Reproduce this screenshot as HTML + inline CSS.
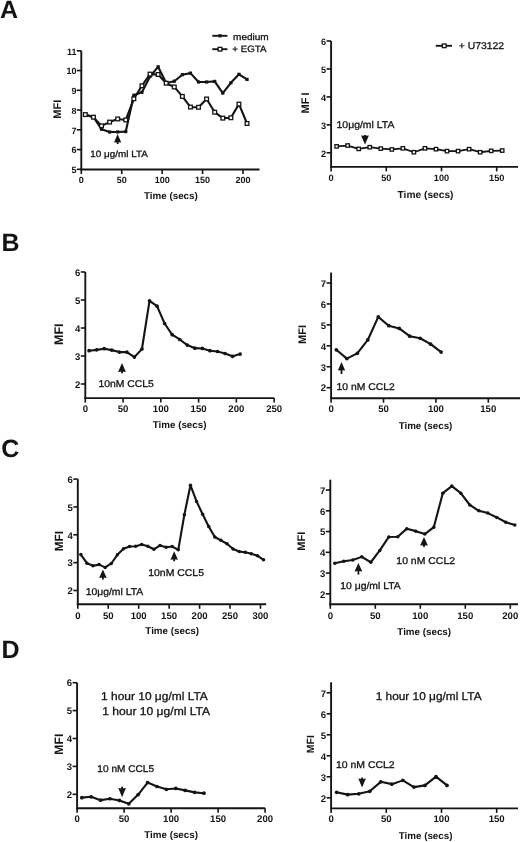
<!DOCTYPE html>
<html><head><meta charset="utf-8"><style>
html,body{margin:0;padding:0;background:#fff;}
svg{display:block;filter:blur(0.35px);}
.r{stroke:#141414;stroke-width:0.3px;}
text{font-family:"Liberation Sans",sans-serif;fill:#141414;stroke:none;text-rendering:geometricPrecision;}
</style></head><body>
<svg width="520" height="842" viewBox="0 0 520 842">
<g stroke="#141414" fill="#141414">
<line x1="81.3" y1="50.8" x2="81.3" y2="170.45" stroke-width="1.9"/>
<line x1="80.35" y1="169.5" x2="259.5" y2="169.5" stroke-width="1.9"/>
<line x1="76.8" y1="169.3" x2="81.3" y2="169.3" stroke-width="1.6"/>
<text x="76.4" y="173.05" font-size="9.0" font-weight="bold" text-anchor="end" >5</text>
<line x1="76.8" y1="149.55" x2="81.3" y2="149.55" stroke-width="1.6"/>
<text x="76.4" y="153.3" font-size="9.0" font-weight="bold" text-anchor="end" >6</text>
<line x1="76.8" y1="129.8" x2="81.3" y2="129.8" stroke-width="1.6"/>
<text x="76.4" y="133.55" font-size="9.0" font-weight="bold" text-anchor="end" >7</text>
<line x1="76.8" y1="110.05" x2="81.3" y2="110.05" stroke-width="1.6"/>
<text x="76.4" y="113.8" font-size="9.0" font-weight="bold" text-anchor="end" >8</text>
<line x1="76.8" y1="90.3" x2="81.3" y2="90.3" stroke-width="1.6"/>
<text x="76.4" y="94.05" font-size="9.0" font-weight="bold" text-anchor="end" >9</text>
<line x1="76.8" y1="70.55" x2="81.3" y2="70.55" stroke-width="1.6"/>
<text x="76.4" y="74.3" font-size="9.0" font-weight="bold" text-anchor="end" >10</text>
<line x1="76.8" y1="50.8" x2="81.3" y2="50.8" stroke-width="1.6"/>
<text x="76.4" y="54.55" font-size="9.0" font-weight="bold" text-anchor="end" >11</text>
<line x1="81.3" y1="169.5" x2="81.3" y2="174" stroke-width="1.6"/>
<text x="81.3" y="183.2" font-size="9.0" font-weight="bold" text-anchor="middle" >0</text>
<line x1="121.72" y1="169.5" x2="121.72" y2="174" stroke-width="1.6"/>
<text x="121.72" y="183.2" font-size="9.0" font-weight="bold" text-anchor="middle" >50</text>
<line x1="162.15" y1="169.5" x2="162.15" y2="174" stroke-width="1.6"/>
<text x="162.15" y="183.2" font-size="9.0" font-weight="bold" text-anchor="middle" >100</text>
<line x1="202.57" y1="169.5" x2="202.57" y2="174" stroke-width="1.6"/>
<text x="202.57" y="183.2" font-size="9.0" font-weight="bold" text-anchor="middle" >150</text>
<line x1="243" y1="169.5" x2="243" y2="174" stroke-width="1.6"/>
<text x="243" y="183.2" font-size="9.0" font-weight="bold" text-anchor="middle" >200</text>
<text x="170.9" y="198.8" font-size="9.8" font-weight="bold" text-anchor="middle" >Time (secs)</text>
<text x="57.2" y="109.2" font-size="11" font-weight="bold" text-anchor="middle" transform="rotate(-90 57.2 109.2)" dy="3.96">MFI</text>
<polyline fill="none" stroke-width="2.1" stroke-linejoin="round" points="85.34,114.59 93.43,117.16 101.51,129.21 109.6,131.97 117.68,131.97 125.77,131.58 133.85,95.24 141.94,92.28 150.02,76.48 158.11,66.8 166.19,82.99 174.28,81.21 182.36,74.7 190.45,73.12 198.53,82.01 206.62,82.01 214.7,81.41 222.79,93.07 230.87,82.8 238.96,74.3 247.04,79.44"/>
<rect x="83.74" y="112.99" width="3.2" height="3.2" stroke="none"/>
<rect x="91.83" y="115.56" width="3.2" height="3.2" stroke="none"/>
<rect x="99.91" y="127.61" width="3.2" height="3.2" stroke="none"/>
<rect x="108" y="130.37" width="3.2" height="3.2" stroke="none"/>
<rect x="116.08" y="130.37" width="3.2" height="3.2" stroke="none"/>
<rect x="124.17" y="129.98" width="3.2" height="3.2" stroke="none"/>
<rect x="132.25" y="93.64" width="3.2" height="3.2" stroke="none"/>
<rect x="140.34" y="90.68" width="3.2" height="3.2" stroke="none"/>
<rect x="148.42" y="74.88" width="3.2" height="3.2" stroke="none"/>
<rect x="156.51" y="65.2" width="3.2" height="3.2" stroke="none"/>
<rect x="164.59" y="81.39" width="3.2" height="3.2" stroke="none"/>
<rect x="172.68" y="79.61" width="3.2" height="3.2" stroke="none"/>
<rect x="180.76" y="73.1" width="3.2" height="3.2" stroke="none"/>
<rect x="188.85" y="71.52" width="3.2" height="3.2" stroke="none"/>
<rect x="196.93" y="80.41" width="3.2" height="3.2" stroke="none"/>
<rect x="205.02" y="80.41" width="3.2" height="3.2" stroke="none"/>
<rect x="213.1" y="79.81" width="3.2" height="3.2" stroke="none"/>
<rect x="221.19" y="91.47" width="3.2" height="3.2" stroke="none"/>
<rect x="229.27" y="81.2" width="3.2" height="3.2" stroke="none"/>
<rect x="237.36" y="72.7" width="3.2" height="3.2" stroke="none"/>
<rect x="245.44" y="77.84" width="3.2" height="3.2" stroke="none"/>
<polyline fill="none" stroke-width="2.1" stroke-linejoin="round" points="85.34,114.59 93.43,117.16 101.51,125.85 109.6,122.1 117.68,118.94 125.77,119.93 133.85,98.79 141.94,85.76 150.02,74.11 158.11,74.5 166.19,83.19 174.28,86.94 182.36,96.42 190.45,107.09 198.53,107.28 206.62,98.99 214.7,112.22 222.79,118.15 230.87,117.75 238.96,104.12 247.04,123.48"/>
<rect x="83.49" y="112.74" width="3.7" height="3.7" fill="#fff" stroke-width="1.3"/>
<rect x="91.58" y="115.31" width="3.7" height="3.7" fill="#fff" stroke-width="1.3"/>
<rect x="99.66" y="124" width="3.7" height="3.7" fill="#fff" stroke-width="1.3"/>
<rect x="107.75" y="120.25" width="3.7" height="3.7" fill="#fff" stroke-width="1.3"/>
<rect x="115.83" y="117.09" width="3.7" height="3.7" fill="#fff" stroke-width="1.3"/>
<rect x="123.92" y="118.08" width="3.7" height="3.7" fill="#fff" stroke-width="1.3"/>
<rect x="132" y="96.94" width="3.7" height="3.7" fill="#fff" stroke-width="1.3"/>
<rect x="140.09" y="83.91" width="3.7" height="3.7" fill="#fff" stroke-width="1.3"/>
<rect x="148.17" y="72.26" width="3.7" height="3.7" fill="#fff" stroke-width="1.3"/>
<rect x="156.26" y="72.65" width="3.7" height="3.7" fill="#fff" stroke-width="1.3"/>
<rect x="164.34" y="81.34" width="3.7" height="3.7" fill="#fff" stroke-width="1.3"/>
<rect x="172.43" y="85.09" width="3.7" height="3.7" fill="#fff" stroke-width="1.3"/>
<rect x="180.51" y="94.57" width="3.7" height="3.7" fill="#fff" stroke-width="1.3"/>
<rect x="188.6" y="105.24" width="3.7" height="3.7" fill="#fff" stroke-width="1.3"/>
<rect x="196.68" y="105.44" width="3.7" height="3.7" fill="#fff" stroke-width="1.3"/>
<rect x="204.77" y="97.14" width="3.7" height="3.7" fill="#fff" stroke-width="1.3"/>
<rect x="212.85" y="110.37" width="3.7" height="3.7" fill="#fff" stroke-width="1.3"/>
<rect x="220.94" y="116.3" width="3.7" height="3.7" fill="#fff" stroke-width="1.3"/>
<rect x="229.02" y="115.9" width="3.7" height="3.7" fill="#fff" stroke-width="1.3"/>
<rect x="237.11" y="102.28" width="3.7" height="3.7" fill="#fff" stroke-width="1.3"/>
<rect x="245.19" y="121.63" width="3.7" height="3.7" fill="#fff" stroke-width="1.3"/>
<line x1="331.1" y1="41" x2="331.1" y2="167.85" stroke-width="1.9"/>
<line x1="330.15" y1="166.9" x2="518" y2="166.9" stroke-width="1.9"/>
<line x1="326.6" y1="152.8" x2="331.1" y2="152.8" stroke-width="1.6"/>
<text x="326.2" y="156.55" font-size="9.2" font-weight="bold" text-anchor="end" >2</text>
<line x1="326.6" y1="124.85" x2="331.1" y2="124.85" stroke-width="1.6"/>
<text x="326.2" y="128.6" font-size="9.2" font-weight="bold" text-anchor="end" >3</text>
<line x1="326.6" y1="96.9" x2="331.1" y2="96.9" stroke-width="1.6"/>
<text x="326.2" y="100.65" font-size="9.2" font-weight="bold" text-anchor="end" >4</text>
<line x1="326.6" y1="68.95" x2="331.1" y2="68.95" stroke-width="1.6"/>
<text x="326.2" y="72.7" font-size="9.2" font-weight="bold" text-anchor="end" >5</text>
<line x1="326.6" y1="41" x2="331.1" y2="41" stroke-width="1.6"/>
<text x="326.2" y="44.75" font-size="9.2" font-weight="bold" text-anchor="end" >6</text>
<line x1="331.1" y1="166.9" x2="331.1" y2="171.4" stroke-width="1.6"/>
<text x="331.1" y="181.2" font-size="9.2" font-weight="bold" text-anchor="middle" >0</text>
<line x1="386.3" y1="166.9" x2="386.3" y2="171.4" stroke-width="1.6"/>
<text x="386.3" y="181.2" font-size="9.2" font-weight="bold" text-anchor="middle" >50</text>
<line x1="441.5" y1="166.9" x2="441.5" y2="171.4" stroke-width="1.6"/>
<text x="441.5" y="181.2" font-size="9.2" font-weight="bold" text-anchor="middle" >100</text>
<line x1="496.7" y1="166.9" x2="496.7" y2="171.4" stroke-width="1.6"/>
<text x="496.7" y="181.2" font-size="9.2" font-weight="bold" text-anchor="middle" >150</text>
<text x="425.5" y="197.7" font-size="10.2" font-weight="bold" text-anchor="middle" >Time (secs)</text>
<text x="304.6" y="102.9" font-size="11" font-weight="bold" text-anchor="middle" transform="rotate(-90 304.6 102.9)" dy="3.96">MF I</text>
<polyline fill="none" stroke-width="1.8" stroke-linejoin="round" points="336.62,146.37 347.66,145.53 358.7,148.89 369.74,147.21 380.78,148.61 391.82,149.45 402.86,148.33 413.9,152.24 424.94,148.33 435.98,149.17 447.02,151.12 458.06,151.12 469.1,149.17 480.14,152.24 491.18,150.84 502.22,150.56"/>
<rect x="334.92" y="144.67" width="3.4" height="3.4" fill="#fff" stroke-width="1.3"/>
<rect x="345.96" y="143.83" width="3.4" height="3.4" fill="#fff" stroke-width="1.3"/>
<rect x="357" y="147.19" width="3.4" height="3.4" fill="#fff" stroke-width="1.3"/>
<rect x="368.04" y="145.51" width="3.4" height="3.4" fill="#fff" stroke-width="1.3"/>
<rect x="379.08" y="146.91" width="3.4" height="3.4" fill="#fff" stroke-width="1.3"/>
<rect x="390.12" y="147.75" width="3.4" height="3.4" fill="#fff" stroke-width="1.3"/>
<rect x="401.16" y="146.63" width="3.4" height="3.4" fill="#fff" stroke-width="1.3"/>
<rect x="412.2" y="150.54" width="3.4" height="3.4" fill="#fff" stroke-width="1.3"/>
<rect x="423.24" y="146.63" width="3.4" height="3.4" fill="#fff" stroke-width="1.3"/>
<rect x="434.28" y="147.47" width="3.4" height="3.4" fill="#fff" stroke-width="1.3"/>
<rect x="445.32" y="149.42" width="3.4" height="3.4" fill="#fff" stroke-width="1.3"/>
<rect x="456.36" y="149.42" width="3.4" height="3.4" fill="#fff" stroke-width="1.3"/>
<rect x="467.4" y="147.47" width="3.4" height="3.4" fill="#fff" stroke-width="1.3"/>
<rect x="478.44" y="150.54" width="3.4" height="3.4" fill="#fff" stroke-width="1.3"/>
<rect x="489.48" y="149.14" width="3.4" height="3.4" fill="#fff" stroke-width="1.3"/>
<rect x="500.52" y="148.86" width="3.4" height="3.4" fill="#fff" stroke-width="1.3"/>
<line x1="85.3" y1="272" x2="85.3" y2="399.05" stroke-width="1.9"/>
<line x1="84.35" y1="398.1" x2="274.1" y2="398.1" stroke-width="1.9"/>
<line x1="80.8" y1="384" x2="85.3" y2="384" stroke-width="1.6"/>
<text x="80.4" y="387.75" font-size="9.6" font-weight="bold" text-anchor="end" >2</text>
<line x1="80.8" y1="356" x2="85.3" y2="356" stroke-width="1.6"/>
<text x="80.4" y="359.75" font-size="9.6" font-weight="bold" text-anchor="end" >3</text>
<line x1="80.8" y1="328" x2="85.3" y2="328" stroke-width="1.6"/>
<text x="80.4" y="331.75" font-size="9.6" font-weight="bold" text-anchor="end" >4</text>
<line x1="80.8" y1="300" x2="85.3" y2="300" stroke-width="1.6"/>
<text x="80.4" y="303.75" font-size="9.6" font-weight="bold" text-anchor="end" >5</text>
<line x1="80.8" y1="272" x2="85.3" y2="272" stroke-width="1.6"/>
<text x="80.4" y="275.75" font-size="9.6" font-weight="bold" text-anchor="end" >6</text>
<line x1="85.3" y1="398.1" x2="85.3" y2="402.6" stroke-width="1.6"/>
<text x="85.3" y="412.3" font-size="9.6" font-weight="bold" text-anchor="middle" >0</text>
<line x1="123.07" y1="398.1" x2="123.07" y2="402.6" stroke-width="1.6"/>
<text x="123.07" y="412.3" font-size="9.6" font-weight="bold" text-anchor="middle" >50</text>
<line x1="160.84" y1="398.1" x2="160.84" y2="402.6" stroke-width="1.6"/>
<text x="160.84" y="412.3" font-size="9.6" font-weight="bold" text-anchor="middle" >100</text>
<line x1="198.61" y1="398.1" x2="198.61" y2="402.6" stroke-width="1.6"/>
<text x="198.61" y="412.3" font-size="9.6" font-weight="bold" text-anchor="middle" >150</text>
<line x1="236.38" y1="398.1" x2="236.38" y2="402.6" stroke-width="1.6"/>
<text x="236.38" y="412.3" font-size="9.6" font-weight="bold" text-anchor="middle" >200</text>
<line x1="274.15" y1="398.1" x2="274.15" y2="402.6" stroke-width="1.6"/>
<text x="274.15" y="412.3" font-size="9.6" font-weight="bold" text-anchor="middle" >250</text>
<text x="179.6" y="428.1" font-size="9.8" font-weight="bold" text-anchor="middle" >Time (secs)</text>
<text x="58.6" y="334.2" font-size="12.5" font-weight="bold" text-anchor="middle" transform="rotate(-90 58.6 334.2)" dy="4.5">MFI</text>
<polyline fill="none" stroke-width="2.1" stroke-linejoin="round" points="89.08,350.68 96.63,349.84 104.19,348.72 111.74,350.12 119.29,352.08 126.85,352.08 134.4,357.12 141.95,349 149.51,300.84 157.06,306.16 164.62,323.52 172.17,334.72 179.72,339.48 187.28,345.08 194.83,348.16 202.39,348.44 209.94,350.68 217.5,351.52 225.05,353.48 232.6,356.28 240.16,354.04"/>
<circle cx="89.08" cy="350.68" r="1.85" stroke="none"/>
<circle cx="96.63" cy="349.84" r="1.85" stroke="none"/>
<circle cx="104.19" cy="348.72" r="1.85" stroke="none"/>
<circle cx="111.74" cy="350.12" r="1.85" stroke="none"/>
<circle cx="119.29" cy="352.08" r="1.85" stroke="none"/>
<circle cx="126.85" cy="352.08" r="1.85" stroke="none"/>
<circle cx="134.4" cy="357.12" r="1.85" stroke="none"/>
<circle cx="141.95" cy="349" r="1.85" stroke="none"/>
<circle cx="149.51" cy="300.84" r="1.85" stroke="none"/>
<circle cx="157.06" cy="306.16" r="1.85" stroke="none"/>
<circle cx="164.62" cy="323.52" r="1.85" stroke="none"/>
<circle cx="172.17" cy="334.72" r="1.85" stroke="none"/>
<circle cx="179.72" cy="339.48" r="1.85" stroke="none"/>
<circle cx="187.28" cy="345.08" r="1.85" stroke="none"/>
<circle cx="194.83" cy="348.16" r="1.85" stroke="none"/>
<circle cx="202.39" cy="348.44" r="1.85" stroke="none"/>
<circle cx="209.94" cy="350.68" r="1.85" stroke="none"/>
<circle cx="217.5" cy="351.52" r="1.85" stroke="none"/>
<circle cx="225.05" cy="353.48" r="1.85" stroke="none"/>
<circle cx="232.6" cy="356.28" r="1.85" stroke="none"/>
<circle cx="240.16" cy="354.04" r="1.85" stroke="none"/>
<line x1="331.1" y1="272.53" x2="331.1" y2="399.15" stroke-width="1.9"/>
<line x1="330.15" y1="398.2" x2="520" y2="398.2" stroke-width="1.9"/>
<line x1="326.6" y1="387.7" x2="331.1" y2="387.7" stroke-width="1.6"/>
<text x="326.2" y="391.45" font-size="9.6" font-weight="bold" text-anchor="end" >2</text>
<line x1="326.6" y1="366.76" x2="331.1" y2="366.76" stroke-width="1.6"/>
<text x="326.2" y="370.51" font-size="9.6" font-weight="bold" text-anchor="end" >3</text>
<line x1="326.6" y1="345.82" x2="331.1" y2="345.82" stroke-width="1.6"/>
<text x="326.2" y="349.57" font-size="9.6" font-weight="bold" text-anchor="end" >4</text>
<line x1="326.6" y1="324.88" x2="331.1" y2="324.88" stroke-width="1.6"/>
<text x="326.2" y="328.63" font-size="9.6" font-weight="bold" text-anchor="end" >5</text>
<line x1="326.6" y1="303.94" x2="331.1" y2="303.94" stroke-width="1.6"/>
<text x="326.2" y="307.69" font-size="9.6" font-weight="bold" text-anchor="end" >6</text>
<line x1="326.6" y1="283" x2="331.1" y2="283" stroke-width="1.6"/>
<text x="326.2" y="286.75" font-size="9.6" font-weight="bold" text-anchor="end" >7</text>
<line x1="331.1" y1="398.2" x2="331.1" y2="402.7" stroke-width="1.6"/>
<text x="331.1" y="412.3" font-size="9.6" font-weight="bold" text-anchor="middle" >0</text>
<line x1="383.5" y1="398.2" x2="383.5" y2="402.7" stroke-width="1.6"/>
<text x="383.5" y="412.3" font-size="9.6" font-weight="bold" text-anchor="middle" >50</text>
<line x1="435.9" y1="398.2" x2="435.9" y2="402.7" stroke-width="1.6"/>
<text x="435.9" y="412.3" font-size="9.6" font-weight="bold" text-anchor="middle" >100</text>
<line x1="488.3" y1="398.2" x2="488.3" y2="402.7" stroke-width="1.6"/>
<text x="488.3" y="412.3" font-size="9.6" font-weight="bold" text-anchor="middle" >150</text>
<text x="425.5" y="429.4" font-size="9.8" font-weight="bold" text-anchor="middle" >Time (secs)</text>
<text x="302.4" y="334.4" font-size="11" font-weight="bold" text-anchor="middle" transform="rotate(-90 302.4 334.4)" dy="3.96">MFI</text>
<polyline fill="none" stroke-width="2.1" stroke-linejoin="round" points="336.34,349.8 346.82,358.59 357.3,353.36 367.78,339.96 378.26,316.92 388.74,325.72 399.22,328.44 409.7,336.19 420.18,338.28 430.66,344.14 441.14,352.1"/>
<circle cx="336.34" cy="349.8" r="1.85" stroke="none"/>
<circle cx="346.82" cy="358.59" r="1.85" stroke="none"/>
<circle cx="357.3" cy="353.36" r="1.85" stroke="none"/>
<circle cx="367.78" cy="339.96" r="1.85" stroke="none"/>
<circle cx="378.26" cy="316.92" r="1.85" stroke="none"/>
<circle cx="388.74" cy="325.72" r="1.85" stroke="none"/>
<circle cx="399.22" cy="328.44" r="1.85" stroke="none"/>
<circle cx="409.7" cy="336.19" r="1.85" stroke="none"/>
<circle cx="420.18" cy="338.28" r="1.85" stroke="none"/>
<circle cx="430.66" cy="344.14" r="1.85" stroke="none"/>
<circle cx="441.14" cy="352.1" r="1.85" stroke="none"/>
<line x1="77.8" y1="479.1" x2="77.8" y2="605.25" stroke-width="1.9"/>
<line x1="76.85" y1="604.3" x2="266.2" y2="604.3" stroke-width="1.9"/>
<line x1="73.3" y1="590.5" x2="77.8" y2="590.5" stroke-width="1.6"/>
<text x="72.9" y="594.25" font-size="9.6" font-weight="bold" text-anchor="end" >2</text>
<line x1="73.3" y1="562.65" x2="77.8" y2="562.65" stroke-width="1.6"/>
<text x="72.9" y="566.4" font-size="9.6" font-weight="bold" text-anchor="end" >3</text>
<line x1="73.3" y1="534.8" x2="77.8" y2="534.8" stroke-width="1.6"/>
<text x="72.9" y="538.55" font-size="9.6" font-weight="bold" text-anchor="end" >4</text>
<line x1="73.3" y1="506.95" x2="77.8" y2="506.95" stroke-width="1.6"/>
<text x="72.9" y="510.7" font-size="9.6" font-weight="bold" text-anchor="end" >5</text>
<line x1="73.3" y1="479.1" x2="77.8" y2="479.1" stroke-width="1.6"/>
<text x="72.9" y="482.85" font-size="9.6" font-weight="bold" text-anchor="end" >6</text>
<line x1="77.8" y1="604.3" x2="77.8" y2="608.8" stroke-width="1.6"/>
<text x="77.8" y="618.9" font-size="9.6" font-weight="bold" text-anchor="middle" >0</text>
<line x1="108.25" y1="604.3" x2="108.25" y2="608.8" stroke-width="1.6"/>
<text x="108.25" y="618.9" font-size="9.6" font-weight="bold" text-anchor="middle" >50</text>
<line x1="138.69" y1="604.3" x2="138.69" y2="608.8" stroke-width="1.6"/>
<text x="138.69" y="618.9" font-size="9.6" font-weight="bold" text-anchor="middle" >100</text>
<line x1="169.13" y1="604.3" x2="169.13" y2="608.8" stroke-width="1.6"/>
<text x="169.13" y="618.9" font-size="9.6" font-weight="bold" text-anchor="middle" >150</text>
<line x1="199.58" y1="604.3" x2="199.58" y2="608.8" stroke-width="1.6"/>
<text x="199.58" y="618.9" font-size="9.6" font-weight="bold" text-anchor="middle" >200</text>
<line x1="230.02" y1="604.3" x2="230.02" y2="608.8" stroke-width="1.6"/>
<text x="230.02" y="618.9" font-size="9.6" font-weight="bold" text-anchor="middle" >250</text>
<line x1="260.47" y1="604.3" x2="260.47" y2="608.8" stroke-width="1.6"/>
<text x="260.47" y="618.9" font-size="9.6" font-weight="bold" text-anchor="middle" >300</text>
<text x="172.2" y="634.4" font-size="9.8" font-weight="bold" text-anchor="middle" >Time (secs)</text>
<text x="58.9" y="541.1" font-size="11.9" font-weight="bold" text-anchor="middle" transform="rotate(-90 58.9 541.1)" dy="4.28">MFI</text>
<polyline fill="none" stroke-width="2.1" stroke-linejoin="round" points="80.84,554.57 86.93,563.21 93.02,565.71 99.11,564.6 105.2,567.38 111.29,563.49 117.38,554.85 123.47,548.73 129.56,546.5 135.65,546.22 141.73,544.55 147.82,546.22 153.91,549.28 160,545.38 166.09,547.33 172.18,546.5 178.27,549.84 184.36,514.75 190.45,485.23 196.54,501.38 202.62,514.19 208.71,526.45 214.8,537.03 220.89,540.37 226.98,543.71 233.07,549 239.16,551.51 245.25,552.35 251.34,553.74 257.43,555.69 263.51,559.87"/>
<circle cx="80.84" cy="554.57" r="1.75" stroke="none"/>
<circle cx="86.93" cy="563.21" r="1.75" stroke="none"/>
<circle cx="93.02" cy="565.71" r="1.75" stroke="none"/>
<circle cx="99.11" cy="564.6" r="1.75" stroke="none"/>
<circle cx="105.2" cy="567.38" r="1.75" stroke="none"/>
<circle cx="111.29" cy="563.49" r="1.75" stroke="none"/>
<circle cx="117.38" cy="554.85" r="1.75" stroke="none"/>
<circle cx="123.47" cy="548.73" r="1.75" stroke="none"/>
<circle cx="129.56" cy="546.5" r="1.75" stroke="none"/>
<circle cx="135.65" cy="546.22" r="1.75" stroke="none"/>
<circle cx="141.73" cy="544.55" r="1.75" stroke="none"/>
<circle cx="147.82" cy="546.22" r="1.75" stroke="none"/>
<circle cx="153.91" cy="549.28" r="1.75" stroke="none"/>
<circle cx="160" cy="545.38" r="1.75" stroke="none"/>
<circle cx="166.09" cy="547.33" r="1.75" stroke="none"/>
<circle cx="172.18" cy="546.5" r="1.75" stroke="none"/>
<circle cx="178.27" cy="549.84" r="1.75" stroke="none"/>
<circle cx="184.36" cy="514.75" r="1.75" stroke="none"/>
<circle cx="190.45" cy="485.23" r="1.75" stroke="none"/>
<circle cx="196.54" cy="501.38" r="1.75" stroke="none"/>
<circle cx="202.62" cy="514.19" r="1.75" stroke="none"/>
<circle cx="208.71" cy="526.45" r="1.75" stroke="none"/>
<circle cx="214.8" cy="537.03" r="1.75" stroke="none"/>
<circle cx="220.89" cy="540.37" r="1.75" stroke="none"/>
<circle cx="226.98" cy="543.71" r="1.75" stroke="none"/>
<circle cx="233.07" cy="549" r="1.75" stroke="none"/>
<circle cx="239.16" cy="551.51" r="1.75" stroke="none"/>
<circle cx="245.25" cy="552.35" r="1.75" stroke="none"/>
<circle cx="251.34" cy="553.74" r="1.75" stroke="none"/>
<circle cx="257.43" cy="555.69" r="1.75" stroke="none"/>
<circle cx="263.51" cy="559.87" r="1.75" stroke="none"/>
<line x1="330.3" y1="479.67" x2="330.3" y2="605.25" stroke-width="1.9"/>
<line x1="329.35" y1="604.3" x2="518" y2="604.3" stroke-width="1.9"/>
<line x1="325.8" y1="593.8" x2="330.3" y2="593.8" stroke-width="1.6"/>
<text x="325.4" y="597.55" font-size="9.6" font-weight="bold" text-anchor="end" >2</text>
<line x1="325.8" y1="573.05" x2="330.3" y2="573.05" stroke-width="1.6"/>
<text x="325.4" y="576.8" font-size="9.6" font-weight="bold" text-anchor="end" >3</text>
<line x1="325.8" y1="552.3" x2="330.3" y2="552.3" stroke-width="1.6"/>
<text x="325.4" y="556.05" font-size="9.6" font-weight="bold" text-anchor="end" >4</text>
<line x1="325.8" y1="531.55" x2="330.3" y2="531.55" stroke-width="1.6"/>
<text x="325.4" y="535.3" font-size="9.6" font-weight="bold" text-anchor="end" >5</text>
<line x1="325.8" y1="510.8" x2="330.3" y2="510.8" stroke-width="1.6"/>
<text x="325.4" y="514.55" font-size="9.6" font-weight="bold" text-anchor="end" >6</text>
<line x1="325.8" y1="490.05" x2="330.3" y2="490.05" stroke-width="1.6"/>
<text x="325.4" y="493.8" font-size="9.6" font-weight="bold" text-anchor="end" >7</text>
<line x1="330.3" y1="604.3" x2="330.3" y2="608.8" stroke-width="1.6"/>
<text x="330.3" y="618.9" font-size="9.6" font-weight="bold" text-anchor="middle" >0</text>
<line x1="375.3" y1="604.3" x2="375.3" y2="608.8" stroke-width="1.6"/>
<text x="375.3" y="618.9" font-size="9.6" font-weight="bold" text-anchor="middle" >50</text>
<line x1="420.3" y1="604.3" x2="420.3" y2="608.8" stroke-width="1.6"/>
<text x="420.3" y="618.9" font-size="9.6" font-weight="bold" text-anchor="middle" >100</text>
<line x1="465.3" y1="604.3" x2="465.3" y2="608.8" stroke-width="1.6"/>
<text x="465.3" y="618.9" font-size="9.6" font-weight="bold" text-anchor="middle" >150</text>
<line x1="510.3" y1="604.3" x2="510.3" y2="608.8" stroke-width="1.6"/>
<text x="510.3" y="618.9" font-size="9.6" font-weight="bold" text-anchor="middle" >200</text>
<text x="424.2" y="635.4" font-size="9.8" font-weight="bold" text-anchor="middle" >Time (secs)</text>
<text x="301.4" y="541.2" font-size="11" font-weight="bold" text-anchor="middle" transform="rotate(-90 301.4 541.2)" dy="3.96">MFI</text>
<polyline fill="none" stroke-width="2.1" stroke-linejoin="round" points="334.8,563.3 343.8,561.22 352.8,559.98 361.8,556.87 370.8,562.26 379.8,550.43 388.8,536.94 397.8,536.74 406.8,528.64 415.8,531.13 424.8,534.04 433.8,527.19 442.8,493.16 451.8,486.11 460.8,493.16 469.8,504.99 478.8,510.8 487.8,513.08 496.8,517.44 505.8,522.21 514.8,525.12"/>
<circle cx="334.8" cy="563.3" r="1.75" stroke="none"/>
<circle cx="343.8" cy="561.22" r="1.75" stroke="none"/>
<circle cx="352.8" cy="559.98" r="1.75" stroke="none"/>
<circle cx="361.8" cy="556.87" r="1.75" stroke="none"/>
<circle cx="370.8" cy="562.26" r="1.75" stroke="none"/>
<circle cx="379.8" cy="550.43" r="1.75" stroke="none"/>
<circle cx="388.8" cy="536.94" r="1.75" stroke="none"/>
<circle cx="397.8" cy="536.74" r="1.75" stroke="none"/>
<circle cx="406.8" cy="528.64" r="1.75" stroke="none"/>
<circle cx="415.8" cy="531.13" r="1.75" stroke="none"/>
<circle cx="424.8" cy="534.04" r="1.75" stroke="none"/>
<circle cx="433.8" cy="527.19" r="1.75" stroke="none"/>
<circle cx="442.8" cy="493.16" r="1.75" stroke="none"/>
<circle cx="451.8" cy="486.11" r="1.75" stroke="none"/>
<circle cx="460.8" cy="493.16" r="1.75" stroke="none"/>
<circle cx="469.8" cy="504.99" r="1.75" stroke="none"/>
<circle cx="478.8" cy="510.8" r="1.75" stroke="none"/>
<circle cx="487.8" cy="513.08" r="1.75" stroke="none"/>
<circle cx="496.8" cy="517.44" r="1.75" stroke="none"/>
<circle cx="505.8" cy="522.21" r="1.75" stroke="none"/>
<circle cx="514.8" cy="525.12" r="1.75" stroke="none"/>
<line x1="77.1" y1="682.7" x2="77.1" y2="809.25" stroke-width="1.9"/>
<line x1="76.15" y1="808.3" x2="265.1" y2="808.3" stroke-width="1.9"/>
<line x1="72.6" y1="794.3" x2="77.1" y2="794.3" stroke-width="1.6"/>
<text x="72.2" y="798.05" font-size="9.6" font-weight="bold" text-anchor="end" >2</text>
<line x1="72.6" y1="766.4" x2="77.1" y2="766.4" stroke-width="1.6"/>
<text x="72.2" y="770.15" font-size="9.6" font-weight="bold" text-anchor="end" >3</text>
<line x1="72.6" y1="738.5" x2="77.1" y2="738.5" stroke-width="1.6"/>
<text x="72.2" y="742.25" font-size="9.6" font-weight="bold" text-anchor="end" >4</text>
<line x1="72.6" y1="710.6" x2="77.1" y2="710.6" stroke-width="1.6"/>
<text x="72.2" y="714.35" font-size="9.6" font-weight="bold" text-anchor="end" >5</text>
<line x1="72.6" y1="682.7" x2="77.1" y2="682.7" stroke-width="1.6"/>
<text x="72.2" y="686.45" font-size="9.6" font-weight="bold" text-anchor="end" >6</text>
<line x1="77.1" y1="808.3" x2="77.1" y2="812.8" stroke-width="1.6"/>
<text x="77.1" y="822.2" font-size="9.6" font-weight="bold" text-anchor="middle" >0</text>
<line x1="124.1" y1="808.3" x2="124.1" y2="812.8" stroke-width="1.6"/>
<text x="124.1" y="822.2" font-size="9.6" font-weight="bold" text-anchor="middle" >50</text>
<line x1="171.1" y1="808.3" x2="171.1" y2="812.8" stroke-width="1.6"/>
<text x="171.1" y="822.2" font-size="9.6" font-weight="bold" text-anchor="middle" >100</text>
<line x1="218.1" y1="808.3" x2="218.1" y2="812.8" stroke-width="1.6"/>
<text x="218.1" y="822.2" font-size="9.6" font-weight="bold" text-anchor="middle" >150</text>
<line x1="265.1" y1="808.3" x2="265.1" y2="812.8" stroke-width="1.6"/>
<text x="265.1" y="822.2" font-size="9.6" font-weight="bold" text-anchor="middle" >200</text>
<text x="171.1" y="837.7" font-size="9.8" font-weight="bold" text-anchor="middle" >Time (secs)</text>
<text x="58.6" y="744.2" font-size="12.2" font-weight="bold" text-anchor="middle" transform="rotate(-90 58.6 744.2)" dy="4.39">MFI</text>
<polyline fill="none" stroke-width="2.1" stroke-linejoin="round" points="81.8,797.65 91.2,796.81 100.6,800.16 110,798.76 119.4,800.44 128.8,803.79 138.2,794.58 147.6,782.58 157,786.49 166.4,789.28 175.8,788.44 185.2,790.39 194.6,792.35 204,793.18"/>
<circle cx="81.8" cy="797.65" r="1.85" stroke="none"/>
<circle cx="91.2" cy="796.81" r="1.85" stroke="none"/>
<circle cx="100.6" cy="800.16" r="1.85" stroke="none"/>
<circle cx="110" cy="798.76" r="1.85" stroke="none"/>
<circle cx="119.4" cy="800.44" r="1.85" stroke="none"/>
<circle cx="128.8" cy="803.79" r="1.85" stroke="none"/>
<circle cx="138.2" cy="794.58" r="1.85" stroke="none"/>
<circle cx="147.6" cy="782.58" r="1.85" stroke="none"/>
<circle cx="157" cy="786.49" r="1.85" stroke="none"/>
<circle cx="166.4" cy="789.28" r="1.85" stroke="none"/>
<circle cx="175.8" cy="788.44" r="1.85" stroke="none"/>
<circle cx="185.2" cy="790.39" r="1.85" stroke="none"/>
<circle cx="194.6" cy="792.35" r="1.85" stroke="none"/>
<circle cx="204" cy="793.18" r="1.85" stroke="none"/>
<line x1="331.1" y1="682.3" x2="331.1" y2="809.35" stroke-width="1.9"/>
<line x1="330.15" y1="808.4" x2="518" y2="808.4" stroke-width="1.9"/>
<line x1="326.6" y1="797.8" x2="331.1" y2="797.8" stroke-width="1.6"/>
<text x="326.2" y="801.55" font-size="9.6" font-weight="bold" text-anchor="end" >2</text>
<line x1="326.6" y1="776.8" x2="331.1" y2="776.8" stroke-width="1.6"/>
<text x="326.2" y="780.55" font-size="9.6" font-weight="bold" text-anchor="end" >3</text>
<line x1="326.6" y1="755.8" x2="331.1" y2="755.8" stroke-width="1.6"/>
<text x="326.2" y="759.55" font-size="9.6" font-weight="bold" text-anchor="end" >4</text>
<line x1="326.6" y1="734.8" x2="331.1" y2="734.8" stroke-width="1.6"/>
<text x="326.2" y="738.55" font-size="9.6" font-weight="bold" text-anchor="end" >5</text>
<line x1="326.6" y1="713.8" x2="331.1" y2="713.8" stroke-width="1.6"/>
<text x="326.2" y="717.55" font-size="9.6" font-weight="bold" text-anchor="end" >6</text>
<line x1="326.6" y1="692.8" x2="331.1" y2="692.8" stroke-width="1.6"/>
<text x="326.2" y="696.55" font-size="9.6" font-weight="bold" text-anchor="end" >7</text>
<line x1="331.1" y1="808.4" x2="331.1" y2="812.9" stroke-width="1.6"/>
<text x="331.1" y="822.4" font-size="9.6" font-weight="bold" text-anchor="middle" >0</text>
<line x1="386.3" y1="808.4" x2="386.3" y2="812.9" stroke-width="1.6"/>
<text x="386.3" y="822.4" font-size="9.6" font-weight="bold" text-anchor="middle" >50</text>
<line x1="441.5" y1="808.4" x2="441.5" y2="812.9" stroke-width="1.6"/>
<text x="441.5" y="822.4" font-size="9.6" font-weight="bold" text-anchor="middle" >100</text>
<line x1="496.7" y1="808.4" x2="496.7" y2="812.9" stroke-width="1.6"/>
<text x="496.7" y="822.4" font-size="9.6" font-weight="bold" text-anchor="middle" >150</text>
<text x="425.6" y="838.5" font-size="9.8" font-weight="bold" text-anchor="middle" >Time (secs)</text>
<text x="310.1" y="744.2" font-size="10.5" font-weight="bold" text-anchor="middle" transform="rotate(-90 310.1 744.2)" dy="3.78">MFI</text>
<polyline fill="none" stroke-width="2.1" stroke-linejoin="round" points="336.62,792.34 347.66,794.65 358.7,793.81 369.74,791.29 380.78,781.84 391.82,784.15 402.86,780.37 413.9,787.09 424.94,785.41 435.98,776.59 447.02,785.41"/>
<circle cx="336.62" cy="792.34" r="1.85" stroke="none"/>
<circle cx="347.66" cy="794.65" r="1.85" stroke="none"/>
<circle cx="358.7" cy="793.81" r="1.85" stroke="none"/>
<circle cx="369.74" cy="791.29" r="1.85" stroke="none"/>
<circle cx="380.78" cy="781.84" r="1.85" stroke="none"/>
<circle cx="391.82" cy="784.15" r="1.85" stroke="none"/>
<circle cx="402.86" cy="780.37" r="1.85" stroke="none"/>
<circle cx="413.9" cy="787.09" r="1.85" stroke="none"/>
<circle cx="424.94" cy="785.41" r="1.85" stroke="none"/>
<circle cx="435.98" cy="776.59" r="1.85" stroke="none"/>
<circle cx="447.02" cy="785.41" r="1.85" stroke="none"/>
<text x="-0.1" y="17.9" font-size="25" font-weight="bold" text-anchor="start" >A</text>
<text x="1.5" y="250.8" font-size="25" font-weight="bold" text-anchor="start" >B</text>
<text x="1.2" y="457.3" font-size="25" font-weight="bold" text-anchor="start" >C</text>
<text x="1.6" y="657.7" font-size="25" font-weight="bold" text-anchor="start" >D</text>
<line x1="212.3" y1="35.8" x2="227.4" y2="35.8" stroke-width="1.9"/>
<rect x="218.4" y="34.2" width="3.2" height="3.2" stroke="none"/>
<text class="r" transform="translate(233.01 39.5) scale(1.0935 1)" font-size="9.2">medium</text>
<line x1="212.3" y1="49.2" x2="227.4" y2="49.2" stroke-width="1.9"/>
<rect x="218.15" y="47.35" width="3.7" height="3.7" fill="#fff" stroke-width="1.3"/>
<text class="r" transform="translate(232.27 52.3) scale(1.0633 1)" font-size="9.2">+ EGTA</text>
<line x1="435.8" y1="45.8" x2="452" y2="45.8" stroke-width="1.9"/>
<rect x="442.35" y="43.95" width="3.7" height="3.7" fill="#fff" stroke-width="1.3"/>
<text class="r" transform="translate(458.84 49.3) scale(1.0585 1)" font-size="9.8">+ U73122</text>
<text class="r" transform="translate(90.22 156.7) scale(1.0788 1)" font-size="9.2">10 μg/ml LTA</text>
<path d="M117.6,134 L121.2,142.6 L117.6,142.17 L114,142.6 Z" stroke="none"/>
<line x1="117.6" y1="139.16" x2="117.6" y2="144" stroke-width="1.8"/>
<text class="r" transform="translate(336.53 127.7) scale(1.0660 1)" font-size="9.8">10μg/ml LTA</text>
<path d="M365,144.6 L368.9,135.4 L365,135.86 L361.1,135.4 Z" stroke="none"/>
<line x1="365" y1="135" x2="365" y2="139.08" stroke-width="1.8"/>
<text class="r" transform="translate(98.44 387.2) scale(1.0608 1)" font-size="9.8">10nM CCL5</text>
<path d="M122,363 L125.9,372 L122,371.55 L118.1,372 Z" stroke="none"/>
<line x1="122" y1="368.4" x2="122" y2="373.2" stroke-width="1.8"/>
<text class="r" transform="translate(336.54 389.5) scale(1.0566 1)" font-size="9.8">10 nM CCL2</text>
<path d="M341.5,361.9 L345.15,370.6 L341.5,370.16 L337.85,370.6 Z" stroke="none"/>
<line x1="341.5" y1="367.12" x2="341.5" y2="374" stroke-width="1.8"/>
<text class="r" transform="translate(85.64 595.3) scale(1.0604 1)" font-size="9.8">10μg/ml LTA</text>
<path d="M102.9,569.6 L106.7,578 L102.9,577.58 L99.1,578 Z" stroke="none"/>
<line x1="102.9" y1="574.64" x2="102.9" y2="579.6" stroke-width="1.8"/>
<text class="r" transform="translate(148.23 575.7) scale(1.0667 1)" font-size="9.8">10nM CCL5</text>
<path d="M174.2,551.3 L177.95,559.7 L174.2,559.28 L170.45,559.7 Z" stroke="none"/>
<line x1="174.2" y1="556.34" x2="174.2" y2="561.3" stroke-width="1.8"/>
<text class="r" transform="translate(340.24 588.9) scale(1.0607 1)" font-size="9.8">10 μg/ml LTA</text>
<path d="M358.4,563.1 L362.3,571.4 L358.4,570.99 L354.5,571.4 Z" stroke="none"/>
<line x1="358.4" y1="568.08" x2="358.4" y2="574.6" stroke-width="1.8"/>
<text class="r" transform="translate(396.33 564.2) scale(1.0679 1)" font-size="9.8">10 nM CCL2</text>
<path d="M424,537 L427.9,545.6 L424,545.17 L420.1,545.6 Z" stroke="none"/>
<line x1="424" y1="542.16" x2="424" y2="547" stroke-width="1.8"/>
<text class="r" transform="translate(101.04 700) scale(1.0580 1)" font-size="11.3">1 hour 10 μg/ml LTA</text>
<text class="r" transform="translate(102.23 715) scale(1.0690 1)" font-size="11.3">1 hour 10 μg/ml LTA</text>
<text class="r" transform="translate(97.37 771.9) scale(1.0296 1)" font-size="9.8">10 nM CCL5</text>
<path d="M122.1,797.3 L125.9,788 L122.1,788.46 L118.3,788 Z" stroke="none"/>
<line x1="122.1" y1="786.8" x2="122.1" y2="791.72" stroke-width="1.8"/>
<text class="r" transform="translate(375.65 700.3) scale(1.0500 1)" font-size="11.3">1 hour 10 μg/ml LTA</text>
<text class="r" transform="translate(336.03 767.7) scale(1.0660 1)" font-size="9.8">10 nM CCL2</text>
<path d="M362.1,787.5 L365.9,778.5 L362.1,778.95 L358.3,778.5 Z" stroke="none"/>
<line x1="362.1" y1="777.5" x2="362.1" y2="782.1" stroke-width="1.8"/>
</g>
</svg>
</body></html>
